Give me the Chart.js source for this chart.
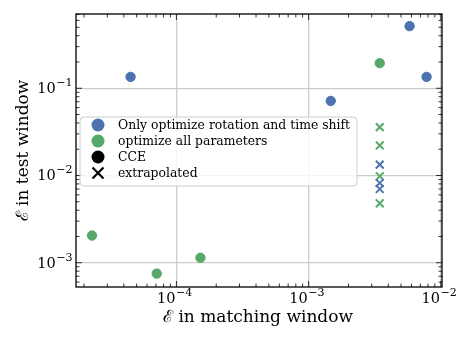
<!DOCTYPE html>
<html>
<head>
<meta charset="utf-8">
<script src="https://cdn.jsdelivr.net/npm/chart.js@4"></script>
<style>
  html, body { margin: 0; padding: 0; background: #fff; }
  #wrap { width: 470px; height: 342px; }
</style>
</head>
<body>
<div id="wrap"><canvas id="chart" width="470" height="342"></canvas></div>
<script>
// values
const rotShiftX = [4.5e-5, 1.47e-3, 5.8e-3, 7.8e-3];
const rotShiftY = [0.135, 0.0716, 0.515, 0.135];
const allParamsX = [2.3e-5, 7.1e-5, 1.52e-4, 3.45e-3];
const allParamsY = [2.05e-3, 7.5e-4, 1.14e-3, 0.194];
const extrapRotX = [3.45e-3, 3.45e-3, 3.45e-3];
const extrapRotY = [0.0133, 0.0082, 0.0070];
const extrapAllX = [3.45e-3, 3.45e-3, 3.45e-3, 3.45e-3];
const extrapAllY = [0.0358, 0.0221, 0.0098, 0.0048];

const xDecades = [1e-4, 1e-3, 1e-2];
const yDecades = [1e-3, 1e-2, 1e-1];
const legendLabels = ["Only optimize rotation and time shift", "optimize all parameters", "CCE", "extrapolated"];

const blue = "#4C72B0";
const green = "#55A868";
const serif = "'DejaVu Serif', 'Liberation Serif', serif";

const pts = (xs, ys) => xs.map((x, i) => ({ x, y: ys[i] }));

function superLabel(ctx, exp, x, y, align) {
  const base = "10", sup = "\u2212" + exp;
  ctx.font = "14.5px " + serif;
  const wb = ctx.measureText(base).width;
  ctx.font = "11px " + serif;
  const ws = ctx.measureText(sup).width;
  let left = align === "right" ? x - wb - ws : x - (wb + ws) / 2;
  ctx.fillStyle = "#000";
  ctx.textBaseline = "alphabetic";
  ctx.textAlign = "left";
  ctx.font = "14.5px " + serif;
  ctx.fillText(base, left, y);
  ctx.font = "11px " + serif;
  ctx.fillText(sup, left + wb + 0.5, y - 7);
}

const decor = {
  id: "decor",
  afterDraw(chart) {
    const { ctx, chartArea: a, scales } = chart;
    const xs = scales.x, ys = scales.y;
    ctx.save();
    // minor + major ticks, inward on all four sides
    ctx.strokeStyle = "#000";
    ctx.lineWidth = 0.8;
    for (let e = -5; e <= -2; e++) {
      for (let m = 1; m <= 9; m++) {
        const v = m * Math.pow(10, e);
        const len = m === 1 ? 6 : 3.5;
        const px = xs.getPixelForValue(v);
        if (px >= a.left - 0.5 && px <= a.right + 0.5) {
          ctx.beginPath();
          ctx.moveTo(px, a.bottom); ctx.lineTo(px, a.bottom - len);
          ctx.moveTo(px, a.top); ctx.lineTo(px, a.top + len);
          ctx.stroke();
        }
      }
    }
    for (let e = -4; e <= 0; e++) {
      for (let m = 1; m <= 9; m++) {
        const v = m * Math.pow(10, e);
        const len = m === 1 ? 6 : 3.5;
        const py = ys.getPixelForValue(v);
        if (py >= a.top - 0.5 && py <= a.bottom + 0.5) {
          ctx.beginPath();
          ctx.moveTo(a.left, py); ctx.lineTo(a.left + len, py);
          ctx.moveTo(a.right, py); ctx.lineTo(a.right - len, py);
          ctx.stroke();
        }
      }
    }
    // frame
    ctx.lineWidth = 1.3;
    ctx.strokeRect(a.left, a.top, a.right - a.left, a.bottom - a.top);

    // tick labels
    xDecades.forEach(v => {
      superLabel(ctx, -Math.round(Math.log10(v)), xs.getPixelForValue(v) - 2, a.bottom + 16, "center");
    });
    yDecades.forEach(v => {
      superLabel(ctx, -Math.round(Math.log10(v)), a.left - 4, ys.getPixelForValue(v) + 5, "right");
    });

    // axis titles
    ctx.fillStyle = "#000";
    ctx.font = "17px " + serif;
    ctx.textAlign = "center";
    ctx.textBaseline = "middle";
    ctx.fillText("\u2130 in matching window", (a.left + a.right) / 2 - 1, 318);
    ctx.save();
    ctx.translate(24, (a.top + a.bottom) / 2);
    ctx.rotate(-Math.PI / 2);
    ctx.fillText("\u2130 in test window", 0, 0);
    ctx.restore();

    // legend box
    const bx = 80, by = 117, bw = 277, bh = 69, r = 4;
    ctx.beginPath();
    ctx.moveTo(bx + r, by);
    ctx.arcTo(bx + bw, by, bx + bw, by + bh, r);
    ctx.arcTo(bx + bw, by + bh, bx, by + bh, r);
    ctx.arcTo(bx, by + bh, bx, by, r);
    ctx.arcTo(bx, by, bx + bw, by, r);
    ctx.closePath();
    ctx.fillStyle = "rgba(255,255,255,0.8)";
    ctx.fill();
    ctx.strokeStyle = "#cccccc";
    ctx.lineWidth = 1;
    ctx.stroke();

    const markColors = [blue, green, "#000", "#000"];
    legendLabels.forEach((lab, i) => {
      const cy = 125 + i * 16;
      const cx = 98;
      if (i < 3) {
        ctx.beginPath();
        ctx.arc(cx, cy, 6.5, 0, Math.PI * 2);
        ctx.fillStyle = markColors[i];
        ctx.fill();
      } else {
        ctx.strokeStyle = "#000";
        ctx.lineWidth = 2.2;
        ctx.beginPath();
        ctx.moveTo(cx - 5.5, cy - 5.5); ctx.lineTo(cx + 5.5, cy + 5.5);
        ctx.moveTo(cx + 5.5, cy - 5.5); ctx.lineTo(cx - 5.5, cy + 5.5);
        ctx.stroke();
      }
      ctx.fillStyle = "#000";
      ctx.font = "12.4px " + serif;
      ctx.textAlign = "left";
      ctx.textBaseline = "middle";
      ctx.fillText(lab, 118, cy + 1);
    });
    ctx.restore();
  }
};

new Chart(document.getElementById("chart"), {
  type: "scatter",
  data: {
    datasets: [
      { label: legendLabels[0], data: pts(rotShiftX, rotShiftY), backgroundColor: blue, borderColor: blue, pointRadius: 4.7, pointHoverRadius: 4.7 },
      { label: legendLabels[1], data: pts(allParamsX, allParamsY), backgroundColor: green, borderColor: green, pointRadius: 4.7, pointHoverRadius: 4.7 },
      { label: "extrap rot", data: pts(extrapRotX, extrapRotY), pointStyle: "crossRot", borderColor: blue, borderWidth: 2, pointRadius: 5.5 },
      { label: "extrap all", data: pts(extrapAllX, extrapAllY), pointStyle: "crossRot", borderColor: green, borderWidth: 2, pointRadius: 5.5 }
    ]
  },
  options: {
    responsive: false,
    animation: false,
    layout: { padding: { top: 14, right: 28, left: 0, bottom: 0 } },
    plugins: { legend: { display: false }, tooltip: { enabled: false } },
    scales: {
      x: {
        type: "logarithmic",
        min: 1.74e-5,
        max: 1.02e-2,
        afterBuildTicks: s => { s.ticks = xDecades.map(v => ({ value: v })); },
        afterFit: s => { s.height = 55; },
        ticks: { display: false },
        border: { display: false },
        grid: { color: "#cccccc", lineWidth: 1.3, drawTicks: false }
      },
      y: {
        type: "logarithmic",
        min: 5.27e-4,
        max: 0.71,
        afterBuildTicks: s => { s.ticks = yDecades.map(v => ({ value: v })); },
        afterFit: s => { s.width = 76; },
        ticks: { display: false },
        border: { display: false },
        grid: { color: "#cccccc", lineWidth: 1.3, drawTicks: false }
      }
    }
  },
  plugins: [decor]
});
</script>
</body>
</html>
